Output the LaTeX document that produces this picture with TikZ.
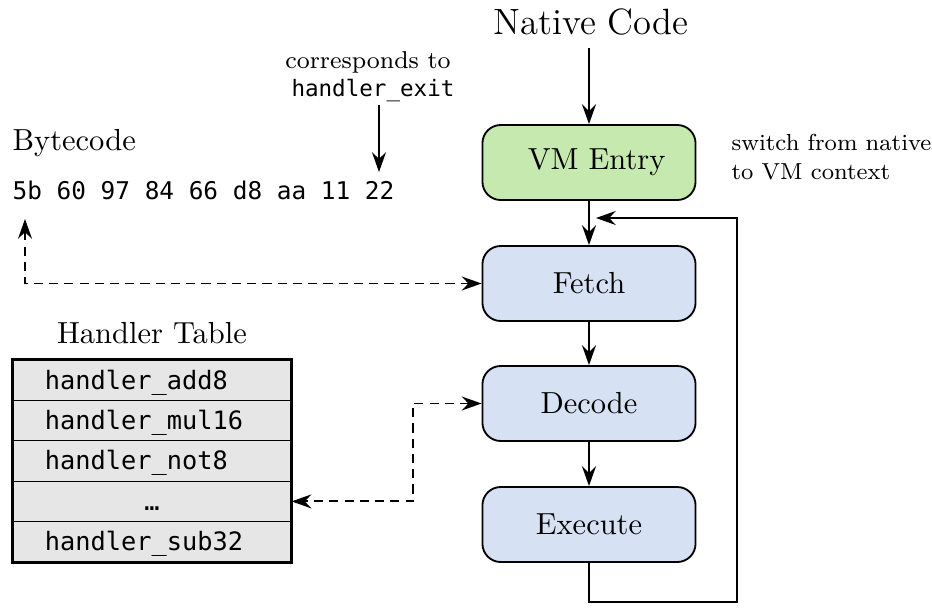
\documentclass[tikz,border=0pt]{standalone}
\usepackage{fontspec}
\setmonofont{DejaVu Sans Mono}
\usetikzlibrary{arrows.meta}
\definecolor{entrygreen}{RGB}{198,233,176}
\definecolor{stepblue}{RGB}{214,226,243}
\definecolor{rowgray}{RGB}{230,230,230}
\begin{document}
\begin{tikzpicture}[x=0.328pt,y=-0.328pt,
  tip/.tip={Stealth[length=6.5pt,width=4.6pt,inset=2.2pt]},
  stagebox/.style={draw,line width=0.6pt,rounded corners=6pt,minimum width=69.9pt,minimum height=24.6pt,inner sep=0pt,fill=stepblue},
  rowbox/.style={draw,line width=0.4pt,fill=rowgray,minimum height=13.25pt,text width=70.2pt,text height=7pt,text depth=1.1pt,inner xsep=10.5pt,inner ysep=0pt,align=left,font=\fontsize{8.3}{10}\ttfamily},
  arr/.style={line width=0.6pt,-tip},
  darr/.style={line width=0.6pt,dash pattern=on 3pt off 2pt,tip-tip},
  lbl/.style={inner sep=0pt}]
\useasboundingbox (0,0) rectangle (932,615);

% main flow
\node[lbl,font=\large] (native) at (591,22) {Native Code};
\node[stagebox,fill=entrygreen] (vm) at (589,162.5) {\hspace{5pt}VM Entry};
\node[stagebox] (fetch) at (589,283.5) {Fetch};
\node[stagebox] (decode) at (589,403.5) {Decode};
\node[stagebox] (exec) at (589,524.5) {Execute};

\draw[arr,shorten <=4pt] (native.south -| vm.north) -- (vm.north);
\draw[arr] (vm) -- (fetch);
\draw[arr] (fetch) -- (decode);
\draw[arr] (decode) -- (exec);

\coordinate (loopa) at (589,602);
\coordinate (loopb) at (737,602);
\coordinate (loopin) at (596,218);
\draw[arr] (exec.south) -- (loopa) -- (loopb) |- (loopin);

\node[lbl,font=\fontsize{7.6}{9.5}\selectfont,align=left,anchor=west] (switch) at (731,157.5) {switch from native\\to VM context};

% bytecode
\node[lbl,anchor=west] (bchead) at (12,143) {Bytecode};
\node[lbl,anchor=west,font=\fontsize{8}{10}\ttfamily] (bytes) at (12,190) {5b 60 97 84 66 d8 aa 11 22};
\node[lbl,font=\footnotesize,anchor=base] (corr) at (368,68) {corresponds to};
\node[lbl,font=\fontsize{7.4}{9}\ttfamily,anchor=base] (hexit) at (373,96) {handler\_exit};
\coordinate (exitfrom) at (379,105);
\coordinate (exitto) at (379,172);
\draw[arr] (exitfrom) -- (exitto);

\coordinate (bytetip) at (25,219);
\draw[darr] (bytetip) |- (fetch.west);

% handler table
\node[lbl] (tabhead) at (152,333) {Handler Table};
\node[rowbox] (row1) at (152,380.2) {handler\_add8};
\node[rowbox] (row2) at (152,420.6) {handler\_mul16};
\node[rowbox] (row3) at (152,461) {handler\_not8};
\node[rowbox,align=center] (row4) at (152,501.4) {…};
\node[rowbox] (row5) at (152,541.8) {handler\_sub32};
\draw[line width=0.6pt] (row1.north west) rectangle (row5.south east);

\coordinate (mid) at (413,450);
\draw[darr] (decode.west) -| (mid) |- (row4.east);
\end{tikzpicture}
\end{document}
